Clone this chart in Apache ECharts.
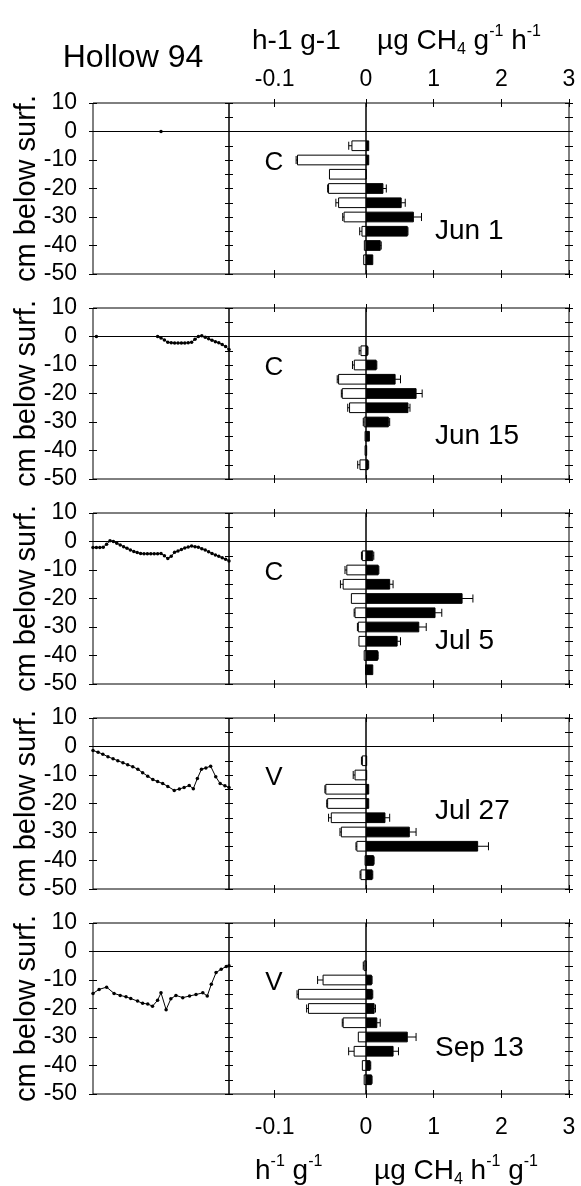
<!DOCTYPE html>
<html>
<head>
<meta charset="utf-8">
<title>Hollow 94</title>
<script src="https://cdn.jsdelivr.net/npm/echarts@6/dist/echarts.min.js"></script>
<style>
html,body{margin:0;padding:0;background:#fff;}
#chart{width:581px;height:1186px;}
</style>
</head>
<body>
<div id="chart"></div>
<script>
var FONT = 'Liberation Sans';

// sampling depths, cm below surface (same for every date)
var depths = [-5, -10, -15, -20, -25, -30, -35, -40, -45];

var dates = ['Jun 1', 'Jun 15', 'Jul 5', 'Jul 27', 'Sep 13'];
var sites = ['C', 'C', 'C', 'V', 'V'];

// CH4 oxidation, h-1 g-1 (plotted to the left of 0)
var oxJun1  = [-0.0154, -0.075, -0.040, -0.041, -0.030, -0.024, -0.0044, -0.0018, -0.0025];
var oxJun15 = [-0.0055, -0.0128, -0.030, -0.026, -0.018, -0.002, -0.001, -0.001, -0.0066];
var oxJul5  = [-0.004, -0.021, -0.025, -0.016, -0.012, -0.0084, -0.0077, -0.002, -0.0005];
var oxJul27 = [-0.004, -0.012, -0.044, -0.042, -0.038, -0.027, -0.010, -0.001, -0.0055];
var oxSep13 = [-0.002, -0.047, -0.074, -0.063, -0.025, -0.0084, -0.013, -0.004, -0.002];

var oxErrJun1  = [0.0035, 0.0015, 0, 0.001, 0.003, 0.0015, 0.0025, 0, 0];
var oxErrJun15 = [0.002, 0.002, 0.0015, 0.001, 0.002, 0.001, 0, 0, 0.0025];
var oxErrJul5  = [0.001, 0.002, 0.003, 0, 0.001, 0.001, 0, 0, 0];
var oxErrJul27 = [0.001, 0.002, 0.001, 0.001, 0.003, 0.0015, 0.001, 0, 0.001];
var oxErrSep13 = [0.001, 0.006, 0.0015, 0.002, 0.001, 0, 0.006, 0, 0];

// CH4 production, ug CH4 h-1 g-1 (plotted to the right of 0)
var prodJun1  = [0.04, 0.04, 0, 0.25, 0.52, 0.70, 0.61, 0.21, 0.10];
var prodJun15 = [0.02, 0.15, 0.43, 0.74, 0.62, 0.33, 0.05, 0.01, 0.03];
var prodJul5  = [0.10, 0.18, 0.35, 1.42, 1.02, 0.78, 0.46, 0.17, 0.10];
var prodJul27 = [0.01, 0.01, 0.04, 0.04, 0.28, 0.64, 1.65, 0.11, 0.09];
var prodSep13 = [0, 0.08, 0.09, 0.12, 0.16, 0.61, 0.40, 0.06, 0.08];

var prodErrJun1  = [0, 0, 0, 0.05, 0.06, 0.12, 0.01, 0.015, 0];
var prodErrJun15 = [0.01, 0.01, 0.08, 0.09, 0.03, 0.02, 0, 0, 0.01];
var prodErrJul5  = [0.015, 0.01, 0.05, 0.16, 0.10, 0.11, 0.05, 0.01, 0];
var prodErrJul27 = [0, 0, 0, 0, 0.07, 0.10, 0.16, 0.01, 0.01];
var prodErrSep13 = [0, 0.01, 0.01, 0.02, 0.05, 0.13, 0.08, 0.01, 0.01];

// water table, [day, cm] before each sampling
var wtJun1 = [[20, 0]];
var wtJun15 = [[1, 0], '-', [19, 0], [20, -0.5], [21, -1.2], [22, -2.0], [23, -2.2], [24, -2.3],
  [25, -2.3], [26, -2.3], [27, -2.3], [28, -2.2], [29, -2.0], [30, -1.0], [31, 0.0], [32, 0.3],
  [33, -0.3], [34, -0.8], [35, -1.3], [36, -1.8], [37, -2.2], [38, -2.8], [39, -3.5], [40, -4.6]];
var wtJul5 = [[0, -2.1], [1, -2.1], [2, -2.1], [3, -2.0], [4, -1.0], [5, 0.3], [6, 0.0], [7, -0.6],
  [8, -1.2], [9, -1.8], [10, -2.4], [11, -3.0], [12, -3.5], [13, -3.9], [14, -4.2], [15, -4.3],
  [16, -4.3], [17, -4.3], [18, -4.3], [19, -4.3], [20, -4.2], [21, -5.0], [22, -6.0], [23, -5.2],
  [24, -3.8], [25, -3.3], [26, -2.8], [27, -2.3], [28, -1.9], [29, -1.6], [30, -1.8], [31, -2.0],
  [32, -2.5], [33, -3.0], [34, -3.6], [35, -4.2], [36, -4.7], [37, -5.2], [38, -5.7], [39, -6.2], [40, -6.8]];
var wtJul27 = [[0, -1.4], [1.5, -2.0], [2.9, -2.7], [4.4, -3.6], [5.9, -4.3], [7.3, -5.0], [8.8, -5.7],
  [10.2, -6.4], [11.7, -7.1], [13.2, -8.0], [14.6, -9.2], [16.1, -10.4], [17.6, -11.6], [19.0, -12.3],
  [20.5, -13.0], [22.0, -14.0], [23.9, -15.4], [25.4, -14.9], [26.8, -14.4], [28.3, -13.7], [29.5, -14.8],
  [30.7, -11.2], [31.9, -8.0], [33.2, -7.5], [34.6, -6.9], [36.1, -10.6], [37.4, -13.0], [38.8, -13.8], [40, -14.4]];
var wtSep13 = [[0, -14.7], [1.8, -13.3], [4.0, -12.5], [6.2, -14.7], [8.0, -15.4], [9.7, -15.9],
  [11.1, -16.5], [13.1, -17.4], [14.6, -18.2], [16.1, -18.4], [17.5, -19.2], [19.0, -17.1], [20.0, -14.5],
  [21.5, -20.4], [22.9, -16.6], [24.4, -15.4], [26.4, -16.2], [28.4, -15.6], [30.3, -15.1], [32.3, -14.5],
  [33.6, -15.6], [34.8, -11.5], [36.2, -7.4], [37.7, -6.2], [39.2, -5.3], [40, -5.0]];

var oxidation = [oxJun1, oxJun15, oxJul5, oxJul27, oxSep13];
var oxErr = [oxErrJun1, oxErrJun15, oxErrJul5, oxErrJul27, oxErrSep13];
var production = [prodJun1, prodJun15, prodJul5, prodJul27, prodSep13];
var prodErr = [prodErrJun1, prodErrJun15, prodErrJul5, prodErrJul27, prodErrSep13];
var waterTable = [wtJun1, wtJun15, wtJul5, wtJul27, wtSep13];

var yTicks = {min: -50, max: 10};
var oxTicks = [-0.1];
var prodTicks = {min: 0, max: 3, interval: 1};

// layout
var PANEL_TOP = 103, STEP = 205, H = 171;
var X0 = 93, XDIV = 229, XZERO = 366, XEND = 569;
var BAR = 3.4; // bar thickness in cm

var chart = echarts.init(document.getElementById('chart'));

var grid = [], xAxis = [], yAxis = [], series = [], graphic = [];

function tick(inside, show, custom) {
  var t = {show: show !== false, inside: inside, length: 4, lineStyle: {color: '#000', width: 1}};
  if (custom) t.customValues = custom.slice();
  return t;
}
function label(show, margin, custom) {
  var l = {show: show, color: '#000', fontFamily: FONT, fontSize: 23, margin: margin || 8};
  if (custom) l.customValues = custom.slice();
  return l;
}
function addX(o) {
  o.type = 'value';
  o.axisLine = {show: false, onZero: false};
  o.splitLine = {show: false};
  xAxis.push(o);
  return xAxis.length - 1;
}
function addY(o) {
  o.type = 'value';
  o.min = yTicks.min;
  o.max = yTicks.max;
  o.axisLine = {show: false, onZero: false};
  o.splitLine = {show: false};
  yAxis.push(o);
  return yAxis.length - 1;
}
function surface() {
  return {
    silent: true, symbol: ['none', 'none'], label: {show: false},
    lineStyle: {color: '#000', type: 'solid', width: 1},
    data: [{yAxis: 0}]
  };
}

function barRender(fill) {
  return function (params, api) {
    var v = api.value(0), d = api.value(1), e = api.value(2);
    var a = api.coord([0, d + BAR / 2]);
    var b = api.coord([v, d - BAR / 2]);
    var kids = [{
      type: 'rect',
      shape: {x: Math.min(a[0], b[0]), y: a[1], width: Math.abs(b[0] - a[0]), height: b[1] - a[1]},
      style: {fill: fill, stroke: '#000', lineWidth: 1}
    }];
    if (e > 0) {
      var s = v < 0 ? -1 : 1;
      var p = api.coord([v, d]);
      var q = api.coord([v + s * e, d]);
      var c1 = api.coord([v + s * e, d + BAR / 2.4]);
      var c2 = api.coord([v + s * e, d - BAR / 2.4]);
      kids.push({type: 'line', shape: {x1: p[0], y1: p[1], x2: q[0], y2: q[1]}, style: {stroke: '#000', lineWidth: 1}});
      kids.push({type: 'line', shape: {x1: c1[0], y1: c1[1], x2: c2[0], y2: c2[1]}, style: {stroke: '#000', lineWidth: 1}});
    }
    return {type: 'group', children: kids};
  };
}

for (var k = 0; k < 5; k++) {
  var pTop = PANEL_TOP + STEP * k;
  var first = k === 0, last = k === 4;
  var gL = grid.length;
  grid.push({left: X0, top: pTop, width: XDIV - X0, height: H, show: true, borderColor: '#000', borderWidth: 1});
  grid.push({left: XDIV, top: pTop, width: XZERO - XDIV, height: H, show: true, borderColor: '#000', borderWidth: 1});
  grid.push({left: XZERO, top: pTop, width: XEND - XZERO, height: H, show: true, borderColor: '#000', borderWidth: 1});
  var gM = gL + 1, gR = gL + 2;

  // water table panel
  var xL = addX({gridIndex: gL, min: 0, max: 40, axisTick: tick(false, false), axisLabel: label(false)});
  var yL = addY({gridIndex: gL, position: 'left', interval: 10, axisTick: tick(false), axisLabel: label(true, 16)});
  addY({gridIndex: gL, position: 'left', interval: 10, axisTick: tick(true), axisLabel: label(false)});
  addY({gridIndex: gL, position: 'right', interval: 5, axisTick: tick(true), axisLabel: label(false)});

  // oxidation panel
  var xM = addX({gridIndex: gM, position: 'top', min: -0.15, max: 0,
    axisTick: tick(false, true, oxTicks), axisLabel: label(first, 12, oxTicks)});
  addX({gridIndex: gM, position: 'top', min: -0.15, max: 0,
    axisTick: tick(true, true, oxTicks), axisLabel: label(false)});
  addX({gridIndex: gM, position: 'bottom', min: -0.15, max: 0,
    axisTick: tick(false, true, oxTicks), axisLabel: label(last, 22, oxTicks)});
  addX({gridIndex: gM, position: 'bottom', min: -0.15, max: 0,
    axisTick: tick(true, true, oxTicks), axisLabel: label(false)});
  var yM = addY({gridIndex: gM, position: 'left', interval: 5, axisTick: tick(true), axisLabel: label(false)});

  // production panel
  var xR = addX({gridIndex: gR, position: 'top', min: prodTicks.min, max: prodTicks.max, interval: prodTicks.interval,
    axisTick: tick(false), axisLabel: label(first, 12)});
  addX({gridIndex: gR, position: 'top', min: prodTicks.min, max: prodTicks.max, interval: prodTicks.interval,
    axisTick: tick(true), axisLabel: label(false)});
  addX({gridIndex: gR, position: 'bottom', min: prodTicks.min, max: prodTicks.max, interval: prodTicks.interval,
    axisTick: tick(false), axisLabel: label(last, 22)});
  addX({gridIndex: gR, position: 'bottom', min: prodTicks.min, max: prodTicks.max, interval: prodTicks.interval,
    axisTick: tick(true), axisLabel: label(false)});
  var yR = addY({gridIndex: gR, position: 'left', interval: 5, axisTick: tick(false, false), axisLabel: label(false)});
  addY({gridIndex: gR, position: 'right', interval: 5, axisTick: tick(false), axisLabel: label(false)});
  addY({gridIndex: gR, position: 'right', interval: 5, axisTick: tick(true), axisLabel: label(false)});

  series.push({
    type: 'line', xAxisIndex: xL, yAxisIndex: yL, data: waterTable[k],
    symbol: 'circle', symbolSize: 3.5, connectNulls: false,
    lineStyle: {color: '#000', width: 1}, itemStyle: {color: '#000'},
    markLine: surface()
  });

  var oxRows = depths.map(function (d, i) { return [oxidation[k][i], d, oxErr[k][i]]; });
  var prRows = depths.map(function (d, i) { return [production[k][i], d, prodErr[k][i]]; });
  series.push({type: 'custom', xAxisIndex: xM, yAxisIndex: yM, data: oxRows,
    encode: {x: 0, y: 1}, renderItem: barRender('#fff'), markLine: surface()});
  series.push({type: 'custom', xAxisIndex: xR, yAxisIndex: yR, data: prRows,
    encode: {x: 0, y: 1}, renderItem: barRender('#000'), markLine: surface()});

  graphic.push({type: 'text', x: 27, y: pTop + H / 2, rotation: Math.PI / 2,
    style: {text: 'cm below surf.', font: '29px ' + FONT, fill: '#000', align: 'center', verticalAlign: 'middle'}});
  graphic.push({type: 'text', x: 274, y: pTop + 60,
    style: {text: sites[k], font: '26px ' + FONT, fill: '#000', align: 'center', verticalAlign: 'middle'}});
  graphic.push({type: 'text', x: 435, y: pTop + [128, 128, 128, 93, 125][k],
    style: {text: dates[k], font: '28px ' + FONT, fill: '#000', align: 'left', verticalAlign: 'middle'}});
}

function unitRich() {
  return {
    n: {fontFamily: FONT, fontSize: 28, lineHeight: 34, color: '#000'},
    sub: {fontFamily: FONT, fontSize: 16, lineHeight: 22, verticalAlign: 'bottom', color: '#000'},
    sup: {fontFamily: FONT, fontSize: 16, lineHeight: 4, verticalAlign: 'top', color: '#000'}
  };
}

graphic.push({type: 'text', x: 133, y: 58,
  style: {text: 'Hollow 94', font: '32px ' + FONT, fill: '#000', align: 'center', verticalAlign: 'middle'}});
graphic.push({type: 'text', x: 252, y: 24,
  style: {text: '{n|h-1 g-1}', rich: unitRich(), fill: '#000', align: 'left', verticalAlign: 'top'}});
graphic.push({type: 'text', x: 377, y: 24,
  style: {text: '{n|\u00b5g CH}{sub|4}{n| g}{sup|-1}{n| h}{sup|-1}', rich: unitRich(), fill: '#000', align: 'left', verticalAlign: 'top'}});
graphic.push({type: 'text', x: 255, y: 1154,
  style: {text: '{n|h}{sup|-1}{n| g}{sup|-1}', rich: unitRich(), fill: '#000', align: 'left', verticalAlign: 'top'}});
graphic.push({type: 'text', x: 374, y: 1154,
  style: {text: '{n|\u00b5g CH}{sub|4}{n| h}{sup|-1}{n| g}{sup|-1}', rich: unitRich(), fill: '#000', align: 'left', verticalAlign: 'top'}});

chart.setOption({
  backgroundColor: '#fff',
  animation: false,
  textStyle: {fontFamily: FONT, color: '#000'},
  grid: grid,
  xAxis: xAxis,
  yAxis: yAxis,
  series: series,
  graphic: graphic
});
</script>
</body>
</html>
